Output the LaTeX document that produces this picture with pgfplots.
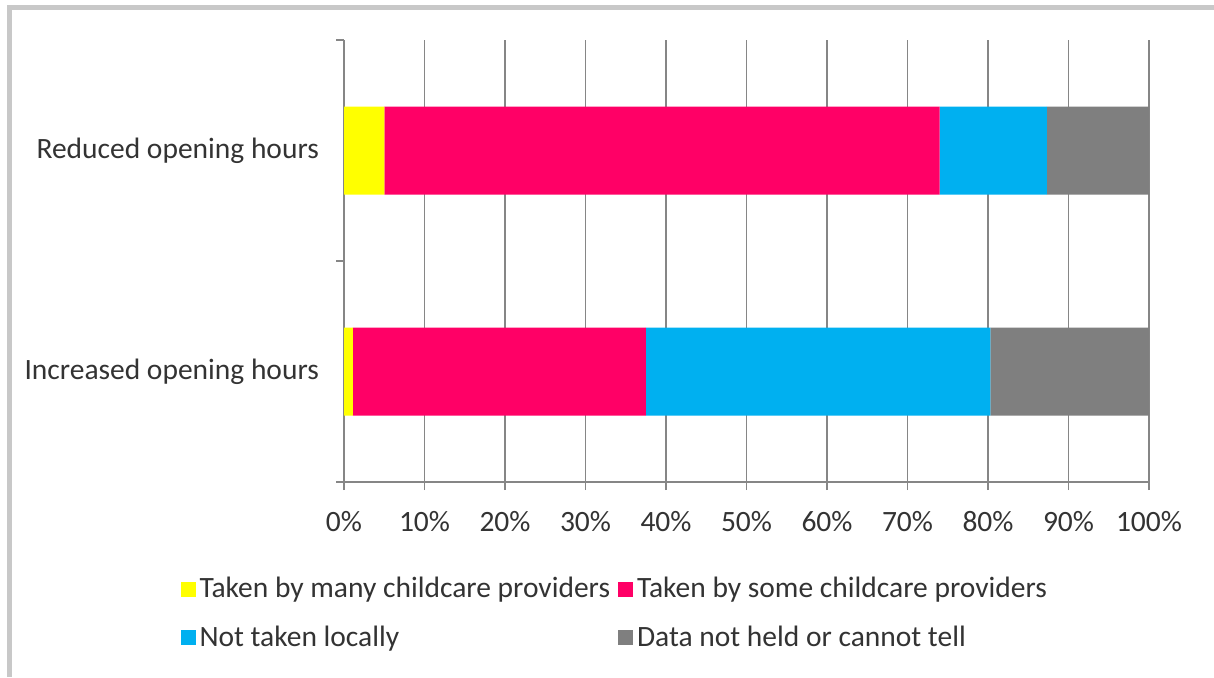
\documentclass[border=0pt]{standalone}
\usepackage{pgfplots}
\pgfplotsset{compat=1.18}
\usepackage{fontspec}
\setmainfont{Carlito}
\definecolor{cYel}{HTML}{FFFF00}
\definecolor{cPink}{HTML}{FF0066}
\definecolor{cBlue}{HTML}{00B0F0}
\definecolor{cGray}{HTML}{7F7F7F}
\definecolor{frameG}{HTML}{C8C8C8}
\definecolor{gridG}{HTML}{868686}
\definecolor{txt}{HTML}{333333}
\pgfplotsset{sqlegend/.style={legend image code/.code={\fill[##1] (0pt,-3.75pt) rectangle (7.5pt,3.75pt);}}}
\begin{document}
\begin{tikzpicture}
\path[use as bounding box] (0,0) rectangle (607pt,338.5pt);
\fill[white] (0,0) rectangle (607pt,338.5pt);
\fill[frameG] (3.5pt,0) rectangle (6pt,336pt);
\fill[frameG] (3.5pt,333.5pt) rectangle (607pt,336pt);
\begin{axis}[
  at={(172pt,97.5pt)}, anchor=south west,
  scale only axis, width=402.5pt, height=221pt,
  xbar stacked, bar width=44pt,
  xmin=0, xmax=100, ymin=-0.5, ymax=1.5,
  xtick={0,10,...,100},
  xticklabel={\pgfmathprintnumber{\tick}\%},
  ytick={0,1},
  yticklabels={Increased opening hours, Reduced opening hours},
  minor ytick={-0.5,0.5,1.5},
  axis x line*=bottom, axis y line*=left,
  axis line style={gridG, line width=0.6pt},
  tick style={gridG, line width=0.6pt},
  major y tick style={draw=none},
  tick align=outside,
  major tick length=4pt, minor tick length=4pt,
  xmajorgrids, grid style={gridG, line width=0.6pt},
  ticklabel style={font=\fontsize{14.75}{17}\selectfont, text=txt},
  xticklabel style={yshift=-7pt},
  yticklabel style={xshift=-5pt},
  /pgf/number format/assume math mode=true,
  legend columns=2,
  legend cell align=left,
  legend style={at={(-0.211,-0.197)}, anchor=north west, draw=none, fill=none,
    font=\fontsize{14.75}{17}\selectfont, text=txt, row sep=8.5pt,
    /tikz/every even column/.append style={column sep=2pt}},
]
\addplot[fill=cYel, draw=none, sqlegend] coordinates {(1.1,0) (5,1)};
\addplot[fill=cPink, draw=none, sqlegend] coordinates {(36.4,0) (69,1)};
\addplot[fill=cBlue, draw=none, sqlegend] coordinates {(42.8,0) (13.3,1)};
\addplot[fill=cGray, draw=none, sqlegend] coordinates {(19.7,0) (12.7,1)};
\legend{Taken by many childcare providers, Taken by some childcare providers, Not taken locally, Data not held or cannot tell}
\end{axis}
\end{tikzpicture}
\end{document}
